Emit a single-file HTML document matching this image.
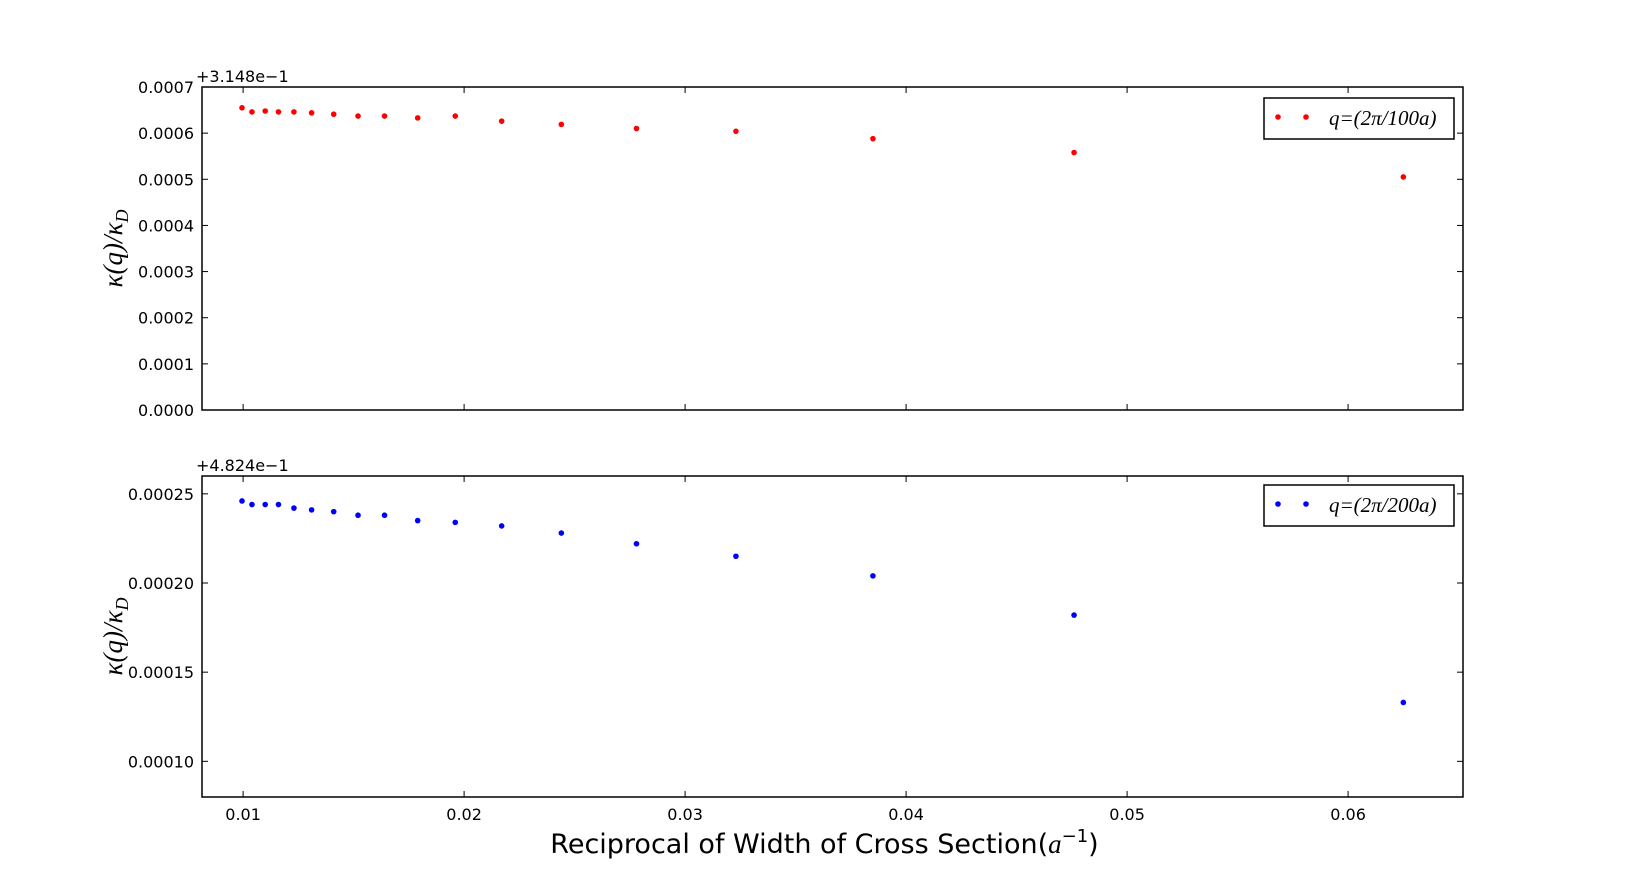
<!DOCTYPE html>
<html><head><meta charset="utf-8"><style>
body{margin:0;background:#fff;}
svg text{font-family:"DejaVu Sans","Liberation Sans",sans-serif;}
.m{font-family:"Liberation Serif",serif;font-style:italic;}
</style></head><body>
<svg id="c" width="1626" height="887" xmlns="http://www.w3.org/2000/svg"></svg>
<script>
const xVals=[0.00995,0.0104,0.0110,0.0116,0.0123,0.0131,0.0141,0.0152,0.0164,0.0179,0.0196,0.0217,0.0244,0.0278,0.0323,0.0385,0.0476,0.0625];
const topVals=[0.000655,0.000646,0.000648,0.000646,0.000646,0.000644,0.000641,0.000637,0.000637,0.000633,0.000637,0.000626,0.000619,0.000610,0.000604,0.000588,0.000558,0.000505];
const botVals=[0.000246,0.000244,0.000244,0.000244,0.000242,0.000241,0.000240,0.000238,0.000238,0.000235,0.000234,0.000232,0.000228,0.000222,0.000215,0.000204,0.000182,0.000133];
const xTicks=[0.01,0.02,0.03,0.04,0.05,0.06];
const xTickLabels=["0.01","0.02","0.03","0.04","0.05","0.06"];
const topTicks=[0,0.0001,0.0002,0.0003,0.0004,0.0005,0.0006,0.0007];
const topTickLabels=["0.0000","0.0001","0.0002","0.0003","0.0004","0.0005","0.0006","0.0007"];
const botTicks=[0.0001,0.00015,0.0002,0.00025];
const botTickLabels=["0.00010","0.00015","0.00020","0.00025"];
const NS="http://www.w3.org/2000/svg";
const svg=document.getElementById('c');
function el(t,a,txt){const e=document.createElementNS(NS,t);for(const k in a)e.setAttribute(k,a[k]);if(txt!=null)e.textContent=txt;svg.appendChild(e);return e;}
const L=202,R=1463;
const X=v=>L+(v-0.00814)/(0.0652-0.00814)*(R-L);
function panel(top,bot,ymin,ymax,ticks,labels,vals,color,offset,legendText,ly,name){
  const Y=v=>bot-(v-ymin)/(ymax-ymin)*(bot-top);
  xTicks.forEach(t=>{const x=X(t);
    const a=el('line',{x1:x,x2:x,y1:bot,y2:bot-6,stroke:'#000'});
    const b=el('line',{x1:x,x2:x,y1:top,y2:top+6,stroke:'#000'});});
  ticks.forEach((t,i)=>{const y=Y(t);
    const a=el('line',{x1:L,x2:L+6,y1:y,y2:y,stroke:'#000'});
    const b=el('line',{x1:R,x2:R-6,y1:y,y2:y,stroke:'#000'});
    const t2=el('text',{x:L-8,y:y+6,'text-anchor':'end','font-size':16},labels[i]);});
  vals.forEach((v,i)=>{const c=el('circle',{cx:X(xVals[i]),cy:Y(v),r:2.8,fill:color});});
  const f=el('rect',{x:L,y:top,width:R-L,height:bot-top,fill:'none',stroke:'#000','stroke-width':1.5});
  const o=el('text',{x:L-6,y:top-5,'font-size':16},offset);
  const cy=(top+bot)/2;
  const yl=el('text',{x:0,y:0,'font-size':27,'text-anchor':'middle',transform:`translate(${L-80},${cy}) rotate(-90)`,class:'m'});
  yl.innerHTML='κ(q)/κ<tspan font-size="18" dy="6">D</tspan>';
  
  const lx=R-199;
  const lg=el('rect',{x:lx,y:ly,width:190,height:41,fill:'#fff',stroke:'#000','stroke-width':1.5});
  [lx+14,lx+42].forEach(x=>{const c=el('circle',{cx:x,cy:ly+19,r:2.8,fill:color});});
  const lt=el('text',{x:lx+65,y:ly+27,'font-size':21,class:'m'},legendText);
}
panel(87,410,0,0.0007,topTicks,topTickLabels,topVals,'#ff0000','+3.148e−1','q=(2π/100a)',98,'top-panel');
panel(476,797,0.00008,0.00026,botTicks,botTickLabels,botVals,'#0000ff','+4.824e−1','q=(2π/200a)',485,'bottom-panel');
xTicks.forEach((t,i)=>{const tx=el('text',{x:X(t),y:820,'text-anchor':'middle','font-size':16},xTickLabels[i]);});
const xt=el('text',{x:(L+R)/2-8,y:853,'text-anchor':'middle','font-size':27});
xt.innerHTML='Reciprocal of Width of Cross Section(<tspan class="m">a</tspan><tspan font-size="18" dy="-11">−1</tspan><tspan dy="11">)</tspan>';


</script>
</body></html>
